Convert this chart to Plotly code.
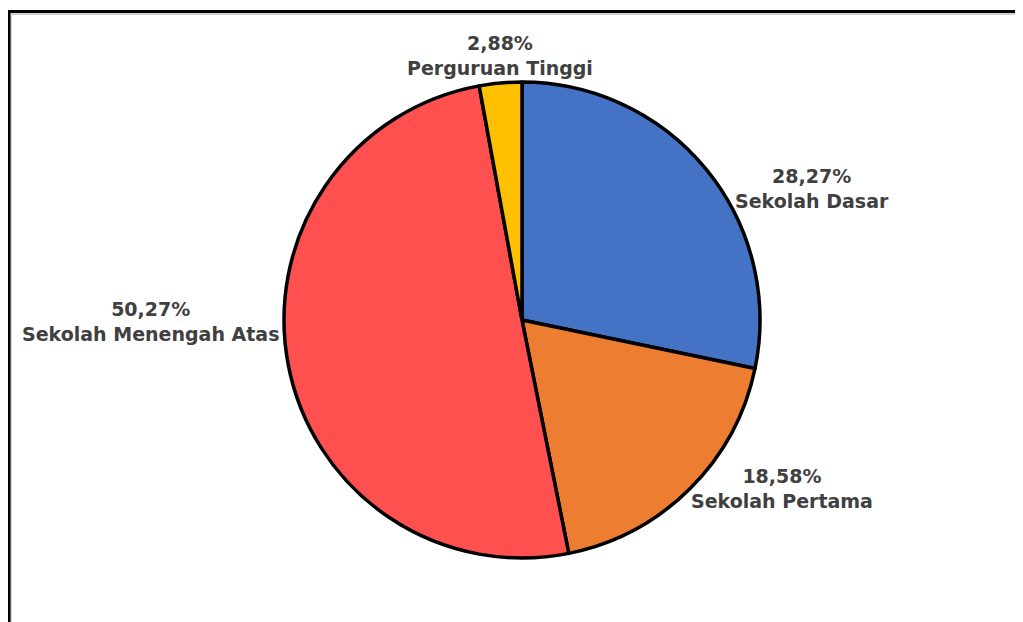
import plotly.graph_objects as go

labels = ['Sekolah Dasar', 'Sekolah Pertama', 'Sekolah Menengah Atas', 'Perguruan Tinggi']
values = [28.27, 18.58, 50.27, 2.88]
colors = ['#4472C4', '#ED7D31', '#FF5050', '#FFC000']

# the page body has an 8px margin, so the figure is drawn 8px in from the window corner
OFF = 8
W, H = 1023, 622 - OFF
# label block centres (window px) for each slice
label_pos = [(812, 188), (782, 488), (150, 321), (500, 55)]


def px_x(x):
    return (x - OFF) / W


def px_y(y):
    return 1 - (y - OFF) / H


fig = go.Figure(go.Pie(
    labels=labels,
    values=values,
    sort=False,
    direction='clockwise',
    rotation=0,
    marker=dict(colors=colors, line=dict(color='black', width=3.5)),
    textinfo='none',
    domain=dict(x=[px_x(284), px_x(760)], y=[px_y(558), px_y(82)]),
    showlegend=False,
))

total = sum(values)
for lab, val, (px, py) in zip(labels, values, label_pos):
    pct = f'{val / total * 100:.2f}'.replace('.', ',') + '%'
    fig.add_annotation(
        x=px_x(px), y=px_y(py), xref='paper', yref='paper',
        text=f'<b>{pct}<br>{lab}</b>', showarrow=False,
        xanchor='center', yanchor='middle', align='center',
        font=dict(family='DejaVu Sans', size=19, color='#404040'),
    )

# frame around the chart (left and top edges visible), with a soft grey shadow
fig.add_shape(type='line', xref='paper', yref='paper', x0=px_x(11), x1=1, y0=px_y(14), y1=px_y(14),
              line=dict(color='#D0D0D0', width=2))
fig.add_shape(type='line', xref='paper', yref='paper', x0=px_x(11), x1=px_x(11), y0=0, y1=px_y(14),
              line=dict(color='#D0D0D0', width=2))
fig.add_shape(type='line', xref='paper', yref='paper', x0=px_x(8), x1=1, y0=px_y(11.5), y1=px_y(11.5),
              line=dict(color='black', width=3))
fig.add_shape(type='line', xref='paper', yref='paper', x0=px_x(9), x1=px_x(9), y0=0, y1=px_y(11),
              line=dict(color='black', width=3))

fig.update_layout(
    width=W, height=H,
    margin=dict(l=0, r=0, t=0, b=0),
    paper_bgcolor='white', plot_bgcolor='white',
)
fig.write_html('out.html')
